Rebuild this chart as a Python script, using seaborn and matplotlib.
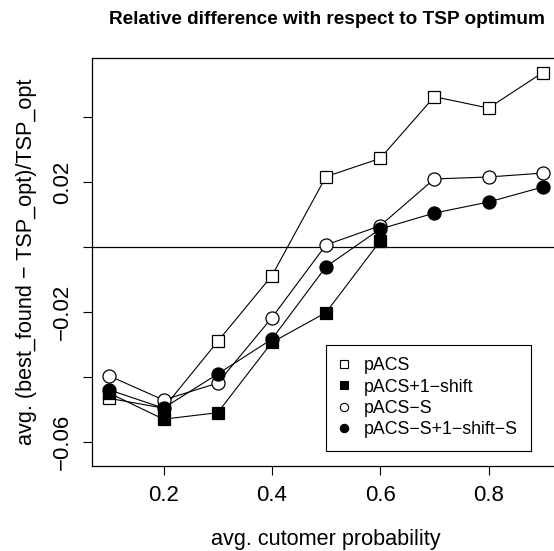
import matplotlib
matplotlib.use("Agg")
import matplotlib.pyplot as plt
import seaborn as sns
import pandas as pd
from matplotlib.lines import Line2D

# data
prob = [0.1, 0.2, 0.3, 0.4, 0.5, 0.6, 0.7, 0.8, 0.9]
pacs = [-0.0465, -0.0495, -0.0290, -0.0088, 0.0217, 0.0273, 0.0463, 0.0428, 0.0537]
pacs_shift = [-0.0449, -0.0529, -0.0509, -0.0293, -0.0201, 0.0019]
pacs_s = [-0.0396, -0.0470, -0.0418, -0.0217, 0.0007, 0.0066, 0.0210, 0.0216, 0.0228]
pacs_s_shift = [-0.0439, -0.0495, -0.0390, -0.0283, -0.0060, 0.0056, 0.0105, 0.0139, 0.0185]

names = ["pACS", "pACS+1\u2212shift", "pACS\u2212S", "pACS\u2212S+1\u2212shift\u2212S"]
series = [pacs, pacs_shift, pacs_s, pacs_s_shift]
markers = ["s", "s", "o", "o"]
faces = ["white", "black", "white", "black"]
sizes = [8.6, 8.6, 9.4, 9.4]

frames = []
for name, vals in zip(names, series):
    frames.append(pd.DataFrame({"prob": prob[:len(vals)], "diff": vals, "algo": name}))
df = pd.concat(frames, ignore_index=True)

sns.set_style("ticks")
plt.rcParams["font.family"] = ["Liberation Sans", "DejaVu Sans"]
plt.rcParams.update({"text.color": "black", "axes.labelcolor": "black",
                     "xtick.color": "black", "ytick.color": "black",
                     "xtick.labelcolor": "black", "ytick.labelcolor": "black"})

W, H = 554, 551
fig = plt.figure(figsize=(W / 100, H / 100), dpi=100)
ax = fig.add_axes([92 / W, (H - 466) / H, (560 - 92) / W, (466 - 58) / H])

ax.axhline(0, color="black", lw=0.9, zorder=1)

for name, m, fc, ms in zip(names, markers, faces, sizes):
    sub = df[df["algo"] == name]
    sns.lineplot(data=sub, x="prob", y="diff", ax=ax, color="black", lw=0.8,
                 marker=m, markersize=ms, markerfacecolor=fc,
                 markeredgecolor="black", markeredgewidth=0.9, zorder=3)

ax.set_xlim(0.068, 0.932)
ax.set_ylim(-0.0673, 0.0582)
ax.set_xticks([0.2, 0.4, 0.6, 0.8])
ax.set_xticklabels(["0.2", "0.4", "0.6", "0.8"])
yt = [-0.06, -0.04, -0.02, 0.0, 0.02, 0.04]
ax.set_yticks(yt)
ax.set_yticklabels(["\u22120.06", "", "\u22120.02", "", "0.02", ""], rotation=90, va="center")
ax.tick_params(axis="both", labelsize=16, length=6.5, width=0.8, color="black",
               labelcolor="black", pad=7)

for sp in ax.spines.values():
    sp.set_visible(True)
    sp.set_color("black")
    sp.set_linewidth(0.9)

ax.set_xlabel("avg. cutomer probability", fontsize=15.6, labelpad=17, color="black")
ax.set_ylabel("avg. (best_found \u2212 TSP_opt)/TSP_opt", fontsize=15.6, labelpad=11,
              color="black")
fig.text(326.5 / W, 1 - 20 / H, "Relative difference with respect to TSP optimum",
         ha="center", va="center", fontsize=13.7, fontweight="bold", color="black")

handles = [Line2D([], [], ls="none", marker=m, markersize=6, markerfacecolor=fc,
                  markeredgecolor="black", markeredgewidth=0.8)
           for m, fc in zip(markers, faces)]
leg = ax.legend(handles, names, loc="upper left", bbox_to_anchor=(326 / W, 1 - 345 / H),
                bbox_transform=fig.transFigure, borderaxespad=0, fontsize=12.8,
                frameon=True, fancybox=False, framealpha=1, edgecolor="black",
                handlelength=0.6, handletextpad=0.85, labelspacing=0.24, borderpad=0.7)
leg.get_frame().set_linewidth(0.8)
for t in leg.get_texts():
    t.set_color("black")

fig.savefig("out.png", dpi=100)
